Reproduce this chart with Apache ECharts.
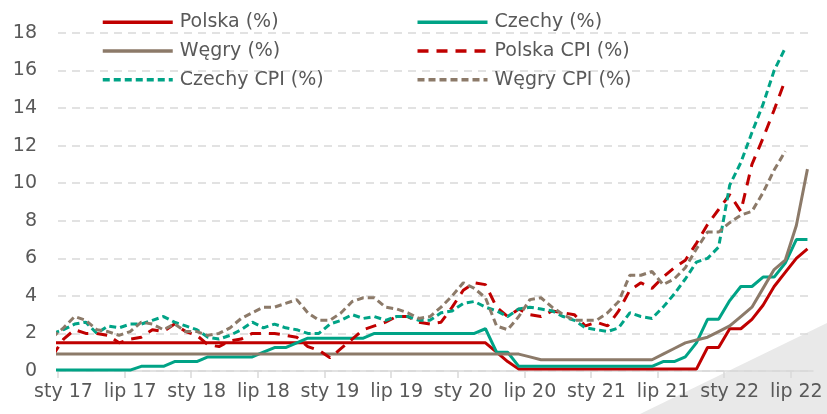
<!DOCTYPE html>
<html>
<head>
<meta charset="utf-8">
<script src="https://cdn.jsdelivr.net/npm/echarts@6/dist/echarts.min.js"></script>
<style>
  html, body { margin: 0; padding: 0; background: #fff; }
  #chart { width: 827px; height: 414px; }
</style>
</head>
<body>
<div id="chart"></div>
<script>
// dane miesięczne od gru 16 do sie 22 (stopy) / cze 22 (CPI)
// indeks miesiąca: sty 17 = 0, punkt rysowany w połowie miesiąca
const startMonth = -1; // gru 16

const tickLabels = ['sty 17', 'lip 17', 'sty 18', 'lip 18', 'sty 19', 'lip 19',
  'sty 20', 'lip 20', 'sty 21', 'lip 21', 'sty 22', 'lip 22'];

// stopy referencyjne (%)
const polska = [1.5,
  1.5, 1.5, 1.5, 1.5, 1.5, 1.5, 1.5, 1.5, 1.5, 1.5, 1.5, 1.5,
  1.5, 1.5, 1.5, 1.5, 1.5, 1.5, 1.5, 1.5, 1.5, 1.5, 1.5, 1.5,
  1.5, 1.5, 1.5, 1.5, 1.5, 1.5, 1.5, 1.5, 1.5, 1.5, 1.5, 1.5,
  1.5, 1.5, 1.5, 1.0, 0.5, 0.1, 0.1, 0.1, 0.1, 0.1, 0.1, 0.1,
  0.1, 0.1, 0.1, 0.1, 0.1, 0.1, 0.1, 0.1, 0.1, 0.1, 1.25, 1.25,
  2.25, 2.25, 2.75, 3.5, 4.5, 5.25, 6.0, 6.5];

const czechy = [0.05,
  0.05, 0.05, 0.05, 0.05, 0.05, 0.05, 0.05, 0.25, 0.25, 0.25, 0.5, 0.5,
  0.5, 0.75, 0.75, 0.75, 0.75, 0.75, 1.0, 1.25, 1.25, 1.5, 1.75, 1.75,
  1.75, 1.75, 1.75, 1.75, 2.0, 2.0, 2.0, 2.0, 2.0, 2.0, 2.0, 2.0,
  2.0, 2.0, 2.25, 1.0, 1.0, 0.25, 0.25, 0.25, 0.25, 0.25, 0.25, 0.25,
  0.25, 0.25, 0.25, 0.25, 0.25, 0.25, 0.5, 0.5, 0.75, 1.5, 2.75, 2.75,
  3.75, 4.5, 4.5, 5.0, 5.0, 5.75, 7.0, 7.0];

const wegry = [0.9,
  0.9, 0.9, 0.9, 0.9, 0.9, 0.9, 0.9, 0.9, 0.9, 0.9, 0.9, 0.9,
  0.9, 0.9, 0.9, 0.9, 0.9, 0.9, 0.9, 0.9, 0.9, 0.9, 0.9, 0.9,
  0.9, 0.9, 0.9, 0.9, 0.9, 0.9, 0.9, 0.9, 0.9, 0.9, 0.9, 0.9,
  0.9, 0.9, 0.9, 0.9, 0.9, 0.9, 0.75, 0.6, 0.6, 0.6, 0.6, 0.6,
  0.6, 0.6, 0.6, 0.6, 0.6, 0.6, 0.9, 1.2, 1.5, 1.65, 1.8, 2.1,
  2.4, 2.9, 3.4, 4.4, 5.4, 5.9, 7.75, 10.75];

// inflacja CPI r/r (%)
const polskaCPI = [0.8,
  1.7, 2.2, 2.0, 2.0, 1.9, 1.5, 1.7, 1.8, 2.2, 2.1, 2.5, 2.1,
  1.9, 1.4, 1.3, 1.6, 1.7, 2.0, 2.0, 2.0, 1.9, 1.8, 1.3, 1.1,
  0.7, 1.2, 1.7, 2.2, 2.4, 2.6, 2.9, 2.9, 2.6, 2.5, 2.6, 3.4,
  4.3, 4.7, 4.6, 3.4, 2.9, 3.3, 3.0, 2.9, 3.2, 3.1, 3.0, 2.4,
  2.6, 2.4, 3.2, 4.3, 4.7, 4.4, 5.0, 5.5, 5.9, 6.8, 7.8, 8.6,
  9.4, 8.5, 11.0, 12.4, 13.9, 15.5];

const czechyCPI = [2.0,
  2.2, 2.5, 2.6, 2.0, 2.4, 2.3, 2.5, 2.5, 2.7, 2.9, 2.6, 2.4,
  2.2, 1.8, 1.7, 1.9, 2.2, 2.6, 2.3, 2.5, 2.3, 2.2, 2.0, 2.0,
  2.5, 2.7, 3.0, 2.8, 2.9, 2.7, 2.9, 2.9, 2.7, 2.7, 3.1, 3.2,
  3.6, 3.7, 3.4, 3.2, 2.9, 3.3, 3.4, 3.3, 3.2, 2.9, 2.7, 2.3,
  2.2, 2.1, 2.3, 3.1, 2.9, 2.8, 3.4, 4.1, 4.9, 5.8, 6.0, 6.6,
  9.9, 11.1, 12.7, 14.2, 16.0, 17.2];

const wegryCPI = [1.8,
  2.3, 2.9, 2.7, 2.2, 2.1, 1.9, 2.1, 2.6, 2.5, 2.2, 2.5, 2.1,
  2.1, 1.9, 2.0, 2.3, 2.8, 3.1, 3.4, 3.4, 3.6, 3.8, 3.1, 2.7,
  2.7, 3.1, 3.7, 3.9, 3.9, 3.4, 3.3, 3.1, 2.8, 2.9, 3.4, 4.0,
  4.7, 4.4, 3.9, 2.4, 2.2, 2.9, 3.8, 3.9, 3.4, 3.0, 2.7, 2.7,
  2.7, 3.1, 3.7, 5.1, 5.1, 5.3, 4.6, 4.9, 5.5, 6.5, 7.4, 7.4,
  7.9, 8.3, 8.5, 9.5, 10.7, 11.7];

const RED = '#C00000';
const GREEN = '#00A386';
const BROWN = '#8C7A69';
const FONT = 'DejaVu Sans';
const TEXT = '#595959';

function toPoints(values) {
  return values.map((v, i) => [startMonth + i + 0.5, v]);
}

function line(name, values, color, dash) {
  return {
    name: name,
    type: 'line',
    data: toPoints(values),
    symbol: 'none',
    showSymbol: false,
    clip: true,
    color: color,
    lineStyle: { color: color, width: 3, type: dash || 'solid' }
  };
}

const tickValues = tickLabels.map((_, k) => k * 6);

const chart = echarts.init(document.getElementById('chart'));
chart.setOption({
  animation: false,
  backgroundColor: '#fff',
  grid: { left: 58, right: 14, top: 33, bottom: 43 },
  graphic: [{
    type: 'polygon',
    z: 0,
    silent: true,
    shape: { points: [[640, 414], [827, 323], [827, 414]] },
    style: { fill: '#E9E9E9' }
  }],
  legend: {
    left: 101,
    top: 8,
    width: 660,
    padding: 0,
    itemGap: 0,
    itemWidth: 70,
    itemHeight: 14,
    itemStyle: { opacity: 0 },
    lineStyle: { width: 3.5 },
    textStyle: { fontFamily: FONT, fontSize: 19, color: TEXT, width: 236, lineHeight: 28.7, padding: [0, 0, 0, 2] },
    data: ['Polska (%)', 'Czechy (%)', 'Węgry (%)', 'Polska CPI (%)', 'Czechy CPI (%)', 'Węgry CPI (%)']
  },
  xAxis: {
    type: 'value',
    min: 0,
    max: 68,
    interval: 6,
    axisLine: { show: true, lineStyle: { color: '#D9D9D9', width: 1.5 } },
    axisTick: { show: true, length: 7, customValues: tickValues, lineStyle: { color: '#D9D9D9', width: 1.5 } },
    axisLabel: {
      customValues: tickValues,
      formatter: v => tickLabels[Math.round(v / 6)] || '',
      fontFamily: FONT, fontSize: 19, color: TEXT, margin: 12,
      padding: [0, 0, 0, 11]
    },
    splitLine: { show: false }
  },
  yAxis: {
    type: 'value',
    min: 0,
    max: 18,
    interval: 2,
    axisLine: { show: false },
    axisTick: { show: false },
    axisLabel: { fontFamily: FONT, fontSize: 19, color: TEXT, margin: 21 },
    splitLine: { lineStyle: { color: '#D9D9D9', width: 1.5, type: [8, 6] } }
  },
  series: [
    line('Polska (%)', polska, RED),
    line('Czechy (%)', czechy, GREEN),
    line('Węgry (%)', wegry, BROWN),
    line('Polska CPI (%)', polskaCPI, RED, [11, 8]),
    line('Czechy CPI (%)', czechyCPI, GREEN, [7, 4]),
    line('Węgry CPI (%)', wegryCPI, BROWN, [7, 4])
  ]
});
</script>
</body>
</html>
